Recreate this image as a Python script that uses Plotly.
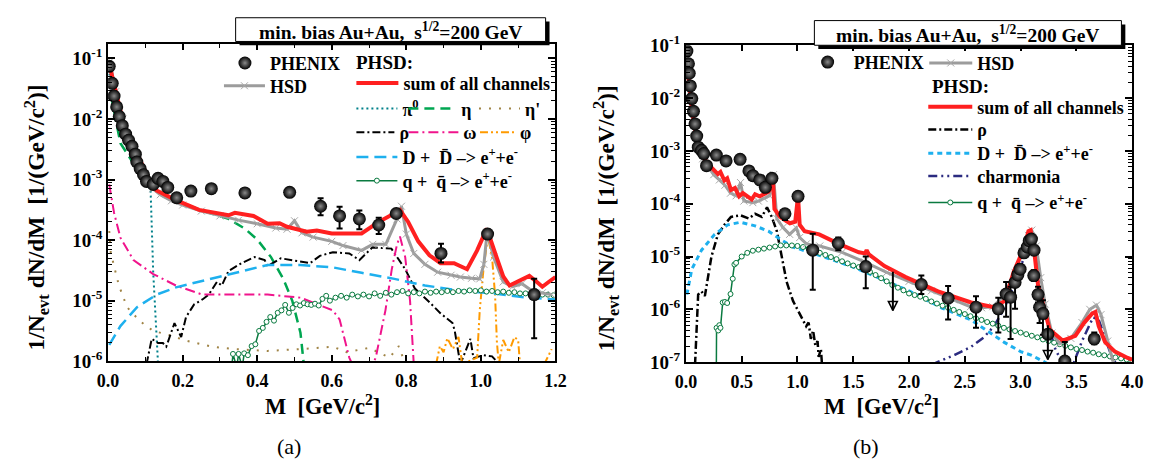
import numpy as np
import plotly.graph_objects as go

SERIF = "Liberation Serif, Times New Roman, Times, serif"

# ---------------- panel (a) data : M [GeV/c^2], log10(1/N dN/dM) ----------------
phenix_a_m   = [0.003, 0.011, 0.016, 0.023, 0.030, 0.038, 0.047, 0.055, 0.064, 0.073, 0.077, 0.086,
                0.095, 0.103, 0.121, 0.134, 0.147, 0.160, 0.184, 0.222, 0.277, 0.367, 0.487, 0.570,
                0.621, 0.674, 0.726, 0.773, 0.893, 1.018, 1.143]
phenix_a_log = [-1.13, -1.41, -1.62, -1.80, -1.96, -2.11, -2.25, -2.35, -2.45, -2.58, -2.71, -2.82,
                -2.92, -3.03, -3.08, -2.98, -3.03, -3.13, -3.30, -3.19, -3.15, -3.22, -3.21, -3.44,
                -3.60, -3.65, -3.75, -3.56, -4.22, -3.90, -4.90]
phenix_a_eup = [0, 0, 0, 0, 0, 0, 0, 0, 0, 0, 0, 0, 0, 0.05, 0.05, 0, 0, 0, 0, 0, 0, 0, 0, 0.13,
                0.15, 0.14, 0.12, 0.05, 0.16, 0.05, 0.26]
phenix_a_edn = [0, 0, 0, 0, 0, 0, 0, 0, 0, 0, 0, 0, 0, 0.05, 0.05, 0, 0, 0, 0, 0, 0, 0, 0, 0.15,
                0.21, 0.17, 0.15, 0.05, 0.15, 0.05, 0.72]

hsd_a_m   = [0.005, 0.02, 0.04, 0.06, 0.08, 0.10, 0.12, 0.14, 0.17, 0.20, 0.25, 0.30, 0.35, 0.40,
             0.45, 0.48, 0.50, 0.52, 0.55, 0.60, 0.63, 0.68, 0.71, 0.745, 0.775, 0.787, 0.80, 0.82,
             0.85, 0.884, 0.92, 0.945, 0.975, 0.997, 1.008, 1.017, 1.034, 1.06, 1.085, 1.11, 1.14,
             1.165, 1.19]
hsd_a_log = [-1.05, -1.55, -2.00, -2.35, -2.65, -2.95, -3.15, -3.25, -3.35, -3.42, -3.52, -3.60,
             -3.67, -3.73, -3.80, -3.82, -3.68, -3.88, -3.95, -4.02, -4.09, -4.17, -4.07, -4.07,
             -3.65, -3.44, -3.90, -4.22, -4.40, -4.53, -4.58, -4.61, -4.63, -4.64, -4.40, -3.86,
             -4.28, -4.69, -4.77, -4.72, -4.85, -4.87, -4.90]

sum_a_m   = [0.007, 0.042, 0.077, 0.112, 0.13, 0.182, 0.244, 0.30, 0.323, 0.34, 0.39, 0.428, 0.46,
             0.48, 0.533, 0.56, 0.60, 0.68, 0.726, 0.77, 0.783, 0.805, 0.832, 0.862, 0.892, 0.928,
             0.963, 0.99, 1.016, 1.042, 1.06, 1.077, 1.095, 1.112, 1.13, 1.148, 1.165, 1.18, 1.2]
sum_a_log = [-1.20, -2.09, -2.56, -3.03, -3.18, -3.34, -3.50, -3.57, -3.59, -3.55, -3.60, -3.73,
             -3.72, -3.78, -3.86, -3.84, -3.89, -3.89, -3.70, -3.55, -3.50, -3.70, -4.02, -4.25,
             -4.38, -4.38, -4.48, -4.17, -3.81, -4.28, -4.60, -4.75, -4.70, -4.64, -4.59, -4.68,
             -4.77, -4.70, -4.61]

pi0_a_m   = [0.003, 0.03, 0.06, 0.09, 0.105, 0.114, 0.121, 0.129, 0.134]
pi0_a_log = [-1.25, -2.05, -2.55, -2.90, -3.05, -3.18, -4.53, -5.42, -6.05]

eta_a_m   = [0.008, 0.033, 0.077, 0.121, 0.182, 0.246, 0.323, 0.367, 0.40, 0.437, 0.47, 0.494,
             0.516, 0.525]
eta_a_log = [-1.62, -2.40, -2.82, -3.13, -3.34, -3.50, -3.65, -3.81, -3.99, -4.28, -4.64, -5.00,
             -5.53, -6.05]

etap_a_m   = [0.003, 0.007, 0.016, 0.029, 0.051, 0.086, 0.121, 0.165, 0.209, 0.279, 0.34, 0.428,
              0.516, 0.603, 0.64, 0.70, 0.755, 0.78, 0.80]
etap_a_log = [-3.85, -4.20, -4.43, -4.75, -5.11, -5.34, -5.50, -5.57, -5.66, -5.76, -5.80, -5.83,
              -5.80, -5.76, -5.85, -5.78, -5.94, -5.75, -6.1]

rho_a_m   = [0.103, 0.117, 0.134, 0.147, 0.156, 0.178, 0.196, 0.209, 0.231, 0.253, 0.27, 0.292,
             0.305, 0.323, 0.358, 0.393, 0.42, 0.428, 0.463, 0.498, 0.542, 0.568, 0.603, 0.647,
             0.674, 0.709, 0.76, 0.797, 0.823, 0.858, 0.892, 0.924, 0.93, 0.945, 0.972, 0.98,
             1.007, 1.03, 1.05]
rho_a_log = [-6.05, -5.63, -5.70, -5.70, -5.76, -5.37, -5.60, -5.27, -5.06, -4.98, -4.90, -4.69,
             -4.75, -4.51, -4.38, -4.28, -4.33, -4.43, -4.30, -4.33, -4.38, -4.26, -4.20, -4.22,
             -4.33, -4.12, -4.14, -4.48, -4.80, -5.00, -5.21, -5.37, -5.50, -6.05, -5.63, -5.95,
             -5.90, -5.92, -6.05]

omega_a_m   = [0.003, 0.016, 0.033, 0.068, 0.121, 0.182, 0.253, 0.34, 0.428, 0.516, 0.603, 0.621,
               0.647, 0.655, 0.71, 0.718, 0.744, 0.761, 0.775, 0.783, 0.797, 0.81, 0.82]
omega_a_log = [-3.08, -3.55, -3.96, -4.33, -4.56, -4.75, -4.90, -4.90, -4.90, -4.95, -5.16, -5.31,
               -5.94, -6.05, -6.05, -5.94, -5.16, -4.48, -4.07, -3.94, -4.28, -5.00, -6.05]

phi_a_m   = [0.88, 0.89, 0.90, 0.91, 0.925, 0.94, 0.95, 0.99, 0.997, 1.007, 1.016, 1.02, 1.03,
             1.038, 1.043, 1.048, 1.06, 1.075, 1.09, 1.1, 1.105, 1.17, 1.19]
phi_a_log = [-6.05, -5.75, -5.85, -5.62, -5.80, -5.60, -6.05, -5.94, -5.16, -4.48, -4.07, -3.98,
             -4.28, -4.90, -5.68, -6.05, -5.65, -5.85, -5.60, -5.65, -6.05, -6.05, -5.80]

dd_a_m   = [0.003, 0.033, 0.077, 0.13, 0.182, 0.253, 0.34, 0.428, 0.516, 0.603, 0.68, 0.768,
            0.85, 0.94, 1.03, 1.11, 1.2]
dd_a_log = [-5.73, -5.42, -5.11, -4.90, -4.78, -4.67, -4.54, -4.41, -4.41, -4.45, -4.54, -4.64,
            -4.75, -4.83, -4.88, -4.94, -4.98]

qq_a_m   = [0.33, 0.335, 0.345, 0.35, 0.36, 0.365, 0.375, 0.385, 0.395, 0.405, 0.415, 0.425,
            0.435, 0.445, 0.455, 0.465, 0.475, 0.485, 0.495, 0.505, 0.515, 0.525, 0.535, 0.545,
            0.555, 0.565, 0.575, 0.585, 0.595, 0.61, 0.625, 0.64, 0.655, 0.67, 0.685, 0.70,
            0.715, 0.73, 0.745, 0.76, 0.775, 0.79, 0.805, 0.82, 0.835, 0.85, 0.865, 0.88, 0.895,
            0.91, 0.925, 0.94, 0.955, 0.97, 0.985, 1.0, 1.015, 1.03, 1.045, 1.06, 1.075, 1.09,
            1.105, 1.12, 1.135, 1.15, 1.165, 1.18, 1.195]
qq_a_log = [-6.2, -5.88, -6.1, -5.88, -6.1, -5.87, -5.90, -5.75, -5.72, -5.50, -5.45, -5.35,
            -5.27, -5.33, -5.20, -5.16, -5.07, -5.20, -5.12, -5.06, -5.08, -5.04, -5.06, -5.07,
            -5.05, -5.08, -4.97, -4.92, -5.00, -4.95, -4.92, -4.95, -4.90, -4.93, -4.90, -4.93,
            -4.88, -4.92, -4.87, -4.90, -4.86, -4.84, -4.88, -4.86, -4.88, -4.85, -4.87, -4.85,
            -4.86, -4.84, -4.86, -4.84, -4.85, -4.83, -4.84, -4.83, -4.85, -4.84, -4.86, -4.85,
            -4.87, -4.86, -4.88, -4.88, -4.89, -4.89, -4.90, -4.90, -4.91]

# ---------------- panel (b) data ----------------
phenix_b_m   = [0.009, 0.023, 0.03, 0.04, 0.053, 0.068, 0.082, 0.097, 0.111, 0.14, 0.16, 0.185,
                0.273, 0.36, 0.486, 0.565, 0.60, 0.662, 0.712, 0.771, 0.888, 1.005, 1.137, 1.366,
                1.612, 2.11, 2.35, 2.60, 2.80, 2.87, 2.91, 2.95, 2.975, 2.995, 3.03, 3.06, 3.077,
                3.097, 3.12, 3.118, 3.156, 3.17, 3.20, 3.244, 3.396, 3.66]
phenix_b_log = [-1.11, -1.35, -1.53, -1.77, -2.01, -2.25, -2.49, -2.72, -2.93, -2.99, -3.05, -3.28,
                -3.08, -3.19, -3.16, -3.38, -3.47, -3.55, -3.69, -3.52, -4.19, -3.86, -4.88, -4.75,
                -5.19, -5.53, -5.79, -5.96, -5.99, -5.71, -5.77, -5.49, -5.35, -5.24, -4.93, -4.82,
                -4.70, -4.67, -4.88, -5.36, -5.72, -5.96, -6.08, -6.47, -6.98, -6.56]
phenix_b_eup = [0, 0, 0, 0, 0, 0, 0, 0, 0, 0, 0, 0, 0, 0, 0, 0, 0, 0, 0.05, 0, 0.08, 0.05, 0.31,
                0.11, 0.19, 0.17, 0.23, 0.21, 0.21, 0.23, 0.2, 0.2, 0.1, 0.1, 0, 0, 0, 0, 0, 0.1,
                0.15, 0.2, 0.25, 0, 0.36, 0.12]
phenix_b_edn = [0, 0, 0, 0, 0, 0, 0, 0, 0, 0, 0, 0, 0, 0, 0, 0, 0, 0, 0.05, 0, 0.12, 0.05, 0.75,
                0.13, 0.41, 0.18, 0.40, 0.39, 0.45, 0.43, 0.79, 0.5, 0.1, 0.1, 0, 0, 0, 0, 0, 0.1,
                0.15, 0.3, 0.4, 0, 0.3, 0.1]
# upper limits (bar top, arrow tip)
lim_b_m     = [1.855, 3.244]
lim_b_top   = [-5.29, -6.30]
lim_b_tip   = [-6.02, -6.95]

sum_b_m   = [0.01, 0.03, 0.06, 0.10, 0.15, 0.20, 0.23, 0.26, 0.287, 0.31, 0.345, 0.37, 0.404, 0.44,
             0.477, 0.51, 0.55, 0.59, 0.62, 0.66, 0.70, 0.741, 0.77, 0.78, 0.794, 0.844, 0.90,
             0.932, 0.98, 0.995, 1.005, 1.02, 1.064, 1.195, 1.37, 1.55, 1.606, 1.62, 1.64, 1.78,
             1.97, 2.26, 2.556, 2.76, 2.85, 2.877, 2.936, 2.997, 3.04, 3.07, 3.09, 3.127, 3.156,
             3.2, 3.26, 3.376, 3.49, 3.567, 3.64, 3.67, 3.70, 3.757, 3.845, 3.96, 4.0]
sum_b_log = [-1.35, -1.80, -2.30, -2.80, -3.10, -3.25, -3.32, -3.40, -3.44, -3.40, -3.56, -3.52,
             -3.74, -3.70, -3.86, -3.80, -3.86, -3.92, -3.82, -3.86, -3.82, -3.77, -3.65, -3.55,
             -4.10, -4.25, -4.33, -4.37, -4.34, -3.95, -3.86, -4.40, -4.52, -4.58, -4.76, -4.92,
             -4.94, -4.88, -4.96, -5.18, -5.39, -5.66, -5.87, -5.96, -5.85, -5.72, -5.30, -5.00,
             -4.76, -4.52, -4.50, -5.00, -5.54, -5.90, -6.38, -6.59, -6.50, -6.26, -6.08, -6.05,
             -6.32, -6.62, -6.80, -6.92, -6.95]

hsd_b_m   = [0.01, 0.03, 0.06, 0.10, 0.15, 0.20, 0.25, 0.30, 0.35, 0.40, 0.45, 0.49, 0.52, 0.60,
             0.65, 0.70, 0.75, 0.785, 0.815, 0.87, 0.93, 0.99, 1.02, 1.08, 1.2, 1.4, 1.6, 1.8, 2.0,
             2.2, 2.4, 2.55, 2.65, 2.75, 2.85, 2.95, 3.02, 3.07, 3.10, 3.14, 3.18, 3.22, 3.28,
             3.35, 3.45, 3.55, 3.62, 3.68, 3.72, 3.78, 3.83, 3.9]
hsd_b_log = [-1.40, -1.90, -2.40, -2.85, -3.15, -3.30, -3.45, -3.55, -3.65, -3.80, -3.85, -3.60,
             -3.95, -3.98, -3.95, -3.90, -3.85, -3.45, -4.28, -4.45, -4.58, -4.46, -4.64, -4.76,
             -4.80, -4.92, -5.10, -5.30, -5.47, -5.65, -5.82, -5.95, -5.97, -5.95, -5.75, -5.30,
             -4.90, -4.60, -4.50, -4.80, -5.40, -5.90, -6.45, -6.65, -6.55, -6.25, -6.00, -5.92,
             -6.10, -6.60, -7.00, -7.30]

rho_b_m   = [0.082, 0.097, 0.11, 0.14, 0.17, 0.229, 0.287, 0.345, 0.404, 0.49, 0.565, 0.62, 0.68,
             0.727, 0.77, 0.815, 0.859, 0.903, 0.96, 1.02, 1.078, 1.10, 1.12, 1.14, 1.16, 1.18,
             1.19, 1.21, 1.22]
rho_b_log = [-7.05, -6.32, -5.72, -5.66, -5.75, -5.00, -4.58, -4.40, -4.25, -4.22, -4.28, -4.19,
             -4.25, -4.07, -4.25, -4.52, -5.00, -5.48, -5.84, -6.08, -6.32, -6.25, -6.56, -6.40,
             -6.68, -6.60, -6.90, -6.75, -7.05]

dd_b_m   = [0.009, 0.053, 0.14, 0.258, 0.375, 0.49, 0.62, 0.74, 0.844, 0.96, 1.2, 1.5, 2.0, 2.3,
            2.556, 2.7, 2.85, 3.0, 3.1, 3.26]
dd_b_log = [-5.72, -5.24, -4.88, -4.58, -4.40, -4.35, -4.42, -4.52, -4.67, -4.82, -4.98, -5.20,
            -5.65, -5.98, -6.20, -6.40, -6.62, -6.80, -6.87, -7.05]

charm_b_m   = [2.2, 2.41, 2.556, 2.67, 2.76, 2.85, 2.95, 3.03, 3.10, 3.15, 3.20, 3.30, 3.38, 3.47,
               3.55, 3.65, 3.70, 3.80, 3.87]
charm_b_log = [-7.05, -6.86, -6.71, -6.53, -6.32, -6.00, -5.50, -5.00, -4.60, -5.00, -5.80, -6.70,
               -7.05, -7.05, -6.60, -6.15, -6.20, -6.80, -7.10]

qq_b_m   = [0.273, 0.275, 0.29, 0.30, 0.31, 0.33, 0.35, 0.37, 0.40, 0.42, 0.435, 0.45, 0.50, 0.55,
            0.60, 0.65, 0.70, 0.75, 0.80, 0.85, 0.90, 0.95, 1.00, 1.05, 1.10, 1.15, 1.20, 1.25,
            1.30, 1.35, 1.40, 1.45, 1.50, 1.55, 1.60, 1.65, 1.70, 1.75, 1.80, 1.85, 1.90, 1.95,
            2.00, 2.05, 2.10, 2.15, 2.20, 2.25, 2.30, 2.35, 2.40, 2.45, 2.50, 2.55, 2.60, 2.65,
            2.70, 2.75, 2.80, 2.85, 2.90, 2.95, 3.00, 3.05, 3.10, 3.15, 3.20, 3.25, 3.30, 3.35,
            3.40, 3.45, 3.50, 3.55, 3.60, 3.65, 3.70, 3.75, 3.80, 3.85, 3.90, 3.95, 4.00]
qq_b_log = [-7.10, -6.35, -6.40, -6.30, -6.35, -5.87, -5.86, -5.88, -5.71, -5.42, -5.15, -5.12,
            -5.00, -4.93, -4.89, -4.87, -4.85, -4.83, -4.81, -4.79, -4.79, -4.79, -4.80, -4.82,
            -4.85, -4.89, -4.93, -4.97, -5.01, -5.05, -5.09, -5.13, -5.17, -5.20, -5.24, -5.29,
            -5.35, -5.41, -5.47, -5.54, -5.59, -5.64, -5.70, -5.73, -5.76, -5.80, -5.85, -5.89,
            -5.93, -5.97, -6.01, -6.05, -6.09, -6.13, -6.17, -6.20, -6.24, -6.27, -6.31, -6.35,
            -6.38, -6.41, -6.44, -6.47, -6.50, -6.53, -6.57, -6.60, -6.63, -6.66, -6.69, -6.72,
            -6.75, -6.77, -6.80, -6.82, -6.85, -6.87, -6.89, -6.91, -6.93, -6.95, -6.97]

x_ticks_a = [0.0, 0.2, 0.4, 0.6, 0.8, 1.0, 1.2]
x_ticks_b = [0.0, 0.5, 1.0, 1.5, 2.0, 2.5, 3.0, 3.5, 4.0]
y_ticks_a = [-6, -5, -4, -3, -2, -1]
y_ticks_b = [-7, -6, -5, -4, -3, -2, -1]

# ---------------- styling ----------------
W, H = 1154, 469
def PX(v): return v / W
def PY(v): return 1 - v / H

RED = "#FF2020"; GRAY = "#9C9C9C"; TEAL = "#00808A"; GREEN_E = "#00A651"; BROWN = "#A08446"
MAG = "#F0148C"; ORANGE = "#FF9A00"; LBLUE = "#1EB0EE"; QQG = "#0A7A40"; NAVY = "#2B2B80"

def lin(v):
    return 10 ** np.asarray(v, dtype=float)

fig = go.Figure()

def line_trace(m, lg, name, color, width, dash, ax, legend, mode="lines", marker=None, show=True):
    tr = go.Scatter(x=m, y=lin(lg), mode=mode, name=name, line=dict(color=color, width=width, dash=dash),
                    xaxis=ax[0], yaxis=ax[1], legend=legend, showlegend=show, hoverinfo="skip")
    if marker is not None:
        tr.marker = marker
    fig.add_trace(tr)

A = ("x", "y"); B = ("x2", "y2")
qq_marker = dict(symbol="circle", size=5, color="white", line=dict(color=QQG, width=1))
hsd_marker = dict(symbol="x-thin", size=7, color=GRAY, line=dict(color="#A8A8A8", width=1))
sphere = dict(symbol="circle", size=13, color="#000000", line=dict(width=0),
              gradient=dict(type="radial", color="#8A8A8A"))

# panel a curves
line_trace(pi0_a_m, pi0_a_log, "π<sup>0</sup>", TEAL, 2, "2px,3px", A, "legend4")
line_trace(eta_a_m, eta_a_log, "η", GREEN_E, 2.5, "10px,6px", A, "legend5")
line_trace(etap_a_m, etap_a_log, "η'", BROWN, 2, "2px,8px", A, "legend6")
line_trace(rho_a_m, rho_a_log, "ρ", "black", 2, "8px,3px,2px,3px", A, "legend7")
line_trace(omega_a_m, omega_a_log, "ω", MAG, 2, "10px,4px,2px,4px", A, "legend8")
line_trace(phi_a_m, phi_a_log, "φ", ORANGE, 2, "8px,3px,2px,3px,2px,3px", A, "legend9")
line_trace(dd_a_m, dd_a_log, "D +  D̄ –> e<sup>+</sup>+e<sup>-</sup>", LBLUE, 2.5, "12px,6px", A, "legend10")
line_trace(qq_a_m, qq_a_log, "q +  q̄ –> e<sup>+</sup>+e<sup>-</sup>", QQG, 1.5, "solid", A, "legend11",
           mode="lines+markers", marker=qq_marker)
line_trace(hsd_a_m, hsd_a_log, "HSD", GRAY, 3, "solid", A, "legend2", mode="lines+markers", marker=hsd_marker)
line_trace(sum_a_m, sum_a_log, "sum of all channels", RED, 4, "solid", A, "legend3")

def err(lg, e):
    return lin(np.asarray(lg) + np.asarray(e)) - lin(lg)

fig.add_trace(go.Scatter(x=phenix_a_m, y=lin(phenix_a_log), mode="markers", name="PHENIX", marker=sphere,
                         error_y=dict(type="data", symmetric=False, array=err(phenix_a_log, phenix_a_eup),
                                      arrayminus=-err(phenix_a_log, -np.asarray(phenix_a_edn)),
                                      color="black", thickness=2, width=3),
                         xaxis="x", yaxis="y", legend="legend", hoverinfo="skip"))

# panel b curves
line_trace(rho_b_m, rho_b_log, "ρ", "black", 2.5, "8px,3px,2px,3px", B, "legend14")
line_trace(dd_b_m, dd_b_log, "D +  D̄ –> e<sup>+</sup>+e<sup>-</sup>", LBLUE, 3, "5px,4px", B, "legend15")
line_trace(charm_b_m, charm_b_log, "charmonia", NAVY, 2.5, "9px,4px,2px,4px,2px,4px", B, "legend16")
line_trace(qq_b_m, qq_b_log, "q +  q̄ –> e<sup>+</sup>+e<sup>-</sup>", QQG, 1.5, "solid", B, "legend17",
           mode="lines+markers", marker=qq_marker)
line_trace(hsd_b_m, hsd_b_log, "HSD", GRAY, 3, "solid", B, "legend12", mode="lines+markers", marker=hsd_marker)
line_trace(sum_b_m, sum_b_log, "sum of all channels", RED, 4, "solid", B, "legend13")

fig.add_trace(go.Scatter(x=phenix_b_m, y=lin(phenix_b_log), mode="markers", name="PHENIX", marker=sphere,
                         error_y=dict(type="data", symmetric=False, array=err(phenix_b_log, phenix_b_eup),
                                      arrayminus=-err(phenix_b_log, -np.asarray(phenix_b_edn)),
                                      color="black", thickness=2, width=3),
                         xaxis="x2", yaxis="y2", legend="legend18", hoverinfo="skip"))
# upper limits: vertical bar + arrow head
for mm, top, tip in zip(lim_b_m, lim_b_top, lim_b_tip):
    fig.add_trace(go.Scatter(x=[mm, mm], y=lin([top, tip]), mode="lines", line=dict(color="black", width=2),
                             xaxis="x2", yaxis="y2", showlegend=False, hoverinfo="skip"))
fig.add_trace(go.Scatter(x=lim_b_m, y=lin(lim_b_tip), mode="markers",
                         marker=dict(symbol="arrow-down-open", size=9, color="black", line=dict(width=1.5)),
                         xaxis="x2", yaxis="y2", showlegend=False, hoverinfo="skip"))

# ---------------- axes ----------------
tickfont = dict(family=SERIF, size=18, color="black", weight="bold")
def xaxis(dom, rng, ticks, minor):
    d = dict(domain=dom, range=rng, tickvals=ticks, ticktext=[f"{t:.1f}" for t in ticks],
             ticks="inside", ticklen=6, tickwidth=1.5, tickcolor="black", showline=True, linewidth=2,
             linecolor="black", mirror="allticks", showgrid=False, zeroline=False, tickfont=tickfont,
             ticklabelstandoff=2)
    if minor:
        d["minor"] = dict(tickmode="linear", tick0=0, dtick=minor, ticks="inside", ticklen=4,
                          tickwidth=1, tickcolor="black", showgrid=False)
    return d

def yaxis(dom, rng, ticks, anchor):
    return dict(domain=dom, type="log", range=rng, tickvals=[10.0 ** t for t in ticks],
                ticktext=[f"10<sup>{t}</sup>" for t in ticks], ticks="inside", ticklen=7, tickwidth=1.5,
                tickcolor="black", showline=True, linewidth=2, linecolor="black", mirror="allticks",
                showgrid=False, zeroline=False, tickfont=dict(family=SERIF, size=19, color="black", weight="bold"),
                anchor=anchor,
                minor=dict(ticks="inside", ticklen=4, tickwidth=1, tickcolor="black", dtick="D1", showgrid=False))

fig.update_layout(
    width=W, height=H, margin=dict(l=0, r=0, t=0, b=0), paper_bgcolor="white", plot_bgcolor="white",
    xaxis=xaxis([PX(99), PX(555)], [0, 1.2], x_ticks_a, 0.1),
    yaxis=yaxis([PY(367), PY(33)], [-6, -0.766], y_ticks_a, "x"),
    xaxis2=xaxis([PX(688), PX(1143)], [0, 4.0], x_ticks_b, None),
    yaxis2=yaxis([PY(368), PY(34)], [-7, -1], y_ticks_b, "x2"),
)
fig.layout.xaxis2.anchor = "y2"
fig.layout.xaxis.anchor = "y"

# ---------------- legends (one per row/item) ----------------
lfont = dict(family=SERIF, size=18, color="black", weight="bold")
def legend(x0, yc, iw):
    return dict(x=PX(x0), y=PY(yc), xanchor="left", yanchor="middle", bgcolor="rgba(0,0,0,0)",
                borderwidth=0, font=lfont, itemwidth=iw, orientation="v", tracegroupgap=0,
                itemclick=False, itemdoubleclick=False)

fig.update_layout(
    legend=legend(213, 53, 40), legend2=legend(212, 77, 41),
    legend3=legend(347, 74, 42),
    legend4=legend(347, 101, 41), legend5=legend(400, 101, 48), legend6=legend(472, 101, 41),
    legend7=legend(347, 126, 38), legend8=legend(400, 126, 50), legend9=legend(473, 126, 35),
    legend10=legend(347, 152, 41), legend11=legend(347, 177, 41),
    legend18=legend(806, 52, 42), legend12=legend(931, 53, 43),
    legend13=legend(930, 99, 44), legend14=legend(930, 123, 44), legend15=legend(930, 148, 44),
    legend16=legend(930, 172, 44), legend17=legend(930, 200, 44),
)

# ---------------- texts ----------------
def ann(x, y, text, size=16, bold=True, angle=0, xanchor="center"):
    fig.add_annotation(x=PX(x), y=PY(y), xref="paper", yref="paper", text=text, showarrow=False,
                       textangle=angle, xanchor=xanchor, yanchor="middle",
                       font=dict(family=SERIF, size=size, color="black", weight="bold" if bold else "normal"))

ann(350, 52, "PHSD:", size=19, xanchor="left")
ann(937, 77, "PHSD:", size=19, xanchor="left")
ann(318, 413, "M  [GeV/c<sup>2</sup>]", size=22.5)
ann(887, 413, "M  [GeV/c<sup>2</sup>]", size=22.5)
ylab = "1/N<sub>evt</sub> dN/dM  [1/(GeV/c<sup>2</sup>)]"
ann(26, 216, ylab, size=23.5, angle=-90)
ann(607, 216, ylab, size=23.5, angle=-90)
ann(283, 457, "(a)", size=22, bold=False)
ann(872, 457, "(b)", size=22, bold=False)

# header boxes with shadow
for (x0, y0, x1, y1) in [(229, 5, 545, 30), (819, 8, 1132, 34)]:
    fig.add_shape(type="rect", xref="paper", yref="paper", x0=PX(x0 + 4), x1=PX(x1 + 4), y0=PY(y1 + 4),
                  y1=PY(y0 + 4), fillcolor="black", line=dict(width=0), layer="above")
    fig.add_shape(type="rect", xref="paper", yref="paper", x0=PX(x0), x1=PX(x1), y0=PY(y1), y1=PY(y0),
                  fillcolor="white", line=dict(color="black", width=1), layer="above")
    ann((x0 + x1) / 2, (y0 + y1) / 2 + 1, "min. bias Au+Au,  s<sup>1/2</sup>=200 GeV", size=19.5)

fig.write_html("out.html", config={"displayModeBar": False},
               post_script="document.body.style.margin='0px';document.body.style.overflow='hidden';")
